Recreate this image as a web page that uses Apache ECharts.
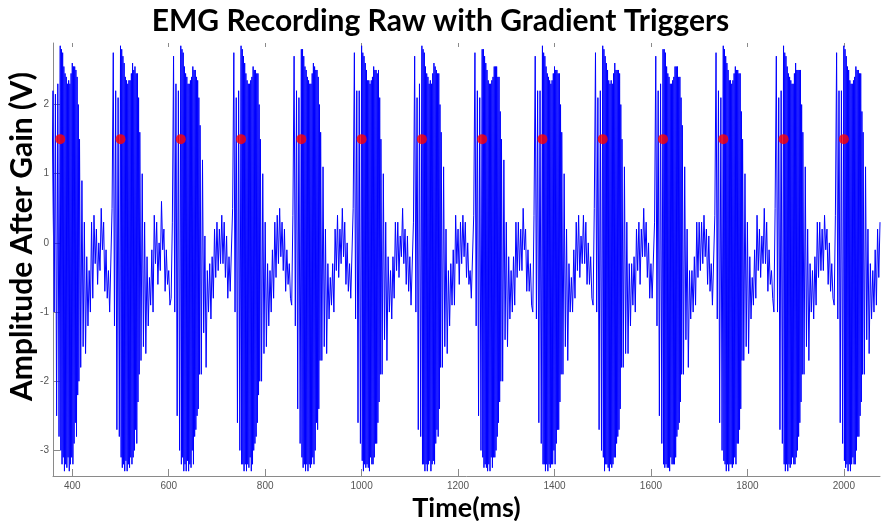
<!DOCTYPE html>
<html>
<head>
<meta charset="utf-8">
<script src="https://cdn.jsdelivr.net/npm/echarts@6/dist/echarts.min.js"></script>
<style>
html,body{margin:0;padding:0;background:#fff;}
#chart{width:881px;height:521px;}
</style>
</head>
<body>
<div id="chart"></div>
<script>
// Gradient trigger markers (ms) and their plotted level (V)
const triggerTimes  = [375, 500, 625, 750, 875, 1000, 1125, 1250, 1375, 1500, 1625, 1750, 1875, 2000];
const triggerLevels = [1.5, 1.5, 1.5, 1.5, 1.5, 1.5, 1.5, 1.5, 1.5, 1.5, 1.5, 1.5, 1.5, 1.5];

// Raw EMG samples around each trigger (V).
// pre:   from trigger-20 ms, every 2.5 ms
// burst: from trigger, every 1.25 ms
// post:  from trigger+40 ms, every 2.5 ms
const emg375 = {
  pre:   [-0.9, 0.4, 2.2, -1.0, 2.15, -2.5, 2.3, -2.8],
  burst: [2.85, -3.0, 2.8, -3.2, 2.75, -3.1, 2.55, -3.3, 2.45, -3.2, 2.4, -3.25, 2.3, -3.1, 2.35, -3.3,
          2.3, -3.2, 2.45, -3.1, 2.6, -3.2, 2.55, -2.9, 2.55, -2.6, 2.5, -2.8, 2.4, -2.2, 2.0, -2.0],
  post:  [1.5, -1.8, 0.9, -1.5, 0.3, -1.6, -0.2, -1.2, -0.4, -1.0, 0.3, -0.8, 0.4, -0.3, 0.2, -0.6,
          0.0, -0.4, 0.5, -0.1, 0.3, -0.7, -0.1, -0.8, -0.4, -1.0]
};
const emg500 = {
  pre:   [-1.0, 0.5, 2.75, -1.2, 2.2, -2.7, 2.1, -2.8],
  burst: [2.85, -3.1, 2.8, -3.25, 2.7, -3.2, 2.6, -3.3, 2.4, -3.15, 2.35, -3.3, 2.3, -3.2, 2.35, -3.25,
          2.35, -3.1, 2.45, -3.2, 2.6, -3.1, 2.5, -3.0, 2.55, -2.7, 2.45, -2.9, 2.45, -2.3, 2.1, -1.9],
  post:  [1.6, -1.7, 1.0, -1.5, 0.3, -1.6, -0.2, -1.2, -0.5, -0.9, -0.1, -1.0, 0.4, -0.3, 0.3, -0.6,
          0.0, -0.4, 0.6, -0.1, 0.2, -0.7, -0.1, -0.6, -0.4, -0.9]
};
const emg625 = {
  pre:   [-0.8, 0.3, 2.7, -1.0, 2.3, -2.5, 2.2, -3.0],
  burst: [2.85, -3.2, 2.8, -3.1, 2.75, -3.3, 2.55, -3.2, 2.45, -3.3, 2.4, -3.15, 2.3, -3.3, 2.3, -3.2,
          2.35, -3.25, 2.4, -3.0, 2.55, -3.2, 2.5, -2.8, 2.5, -2.7, 2.4, -2.5, 2.35, -2.4, 2.1, -1.9],
  post:  [1.7, -1.9, 1.2, -1.3, 0.1, -1.8, -0.4, -1.0, -0.3, -1.1, -0.2, -0.8, 0.2, -0.5, 0.3, -0.4,
          0.2, -0.3, 0.4, -0.3, 0.3, -0.5, 0.1, -0.8, -0.2, -0.7]
};
const emg750 = {
  pre:   [-0.7, 0.5, 2.75, -1.0, 2.1, -2.6, 2.2, -3.0],
  burst: [2.85, -3.2, 2.8, -3.2, 2.7, -3.3, 2.6, -3.2, 2.45, -3.3, 2.35, -3.2, 2.3, -3.25, 2.3, -3.1,
          2.35, -3.3, 2.4, -3.2, 2.55, -3.0, 2.5, -2.9, 2.5, -2.8, 2.45, -2.6, 2.45, -2.2, 2.0, -2.0],
  post:  [1.5, -2.0, 1.0, -1.6, 0.3, -1.5, -0.3, -1.2, -0.4, -1.0, -0.1, -0.8, 0.3, -0.5, 0.4, -0.3,
          0.5, -0.2, 0.3, -0.4, 0.2, -0.7, -0.1, -0.6, -0.3, -0.8]
};
const emg875 = {
  pre:   [-0.9, 0.4, 2.7, -1.2, 2.2, -2.4, 2.1, -2.9],
  burst: [2.8, -3.1, 2.8, -3.25, 2.7, -3.2, 2.55, -3.3, 2.5, -3.2, 2.4, -3.3, 2.35, -3.2, 2.3, -3.25,
          2.3, -3.2, 2.45, -3.1, 2.6, -3.2, 2.55, -3.0, 2.5, -2.6, 2.5, -2.7, 2.4, -2.4, 2.0, -1.7],
  post:  [1.6, -1.7, 1.1, -1.5, 0.2, -1.6, -0.3, -1.1, -0.5, -0.9, -0.3, -1.0, 0.2, -0.4, 0.4, -0.5,
          0.2, -0.3, 0.5, -0.2, 0.3, -0.6, 0.0, -0.7, -0.3, -0.8]
};
const emg1000 = {
  pre:   [-0.8, 0.5, 2.75, -1.1, 2.2, -2.6, 2.2, -2.9],
  burst: [2.85, -3.15, 2.75, -3.3, 2.7, -3.2, 2.6, -3.25, 2.5, -3.2, 2.35, -3.25, 2.35, -3.3, 2.3, -3.1,
          2.35, -3.2, 2.4, -3.2, 2.55, -3.1, 2.5, -2.9, 2.5, -2.9, 2.45, -2.6, 2.5, -2.3, 2.1, -1.9],
  post:  [1.5, -1.9, 1.0, -1.4, 0.3, -1.7, -0.2, -1.0, -0.4, -1.1, -0.2, -0.8, 0.3, -0.4, 0.3, -0.5,
          0.1, -0.2, 0.5, -0.3, 0.2, -0.6, 0.1, -0.7, -0.2, -0.9]
};
const emg1125 = {
  pre:   [-0.9, 0.3, 2.7, -1.0, 2.1, -2.7, 2.3, -2.8],
  burst: [2.85, -3.2, 2.8, -3.2, 2.75, -3.3, 2.55, -3.2, 2.45, -3.3, 2.4, -3.2, 2.3, -3.15, 2.35, -3.3,
          2.3, -3.2, 2.45, -3.15, 2.6, -3.2, 2.55, -2.9, 2.5, -2.7, 2.45, -2.8, 2.45, -2.4, 2.0, -1.8],
  post:  [1.6, -1.8, 1.1, -1.5, 0.2, -1.6, -0.4, -1.2, -0.3, -0.9, -0.1, -0.9, 0.4, -0.3, 0.2, -0.6,
          0.3, -0.3, 0.4, -0.2, 0.3, -0.5, 0.0, -0.6, -0.4, -0.8]
};
const emg1250 = {
  pre:   [-0.8, 0.4, 2.75, -1.2, 2.2, -2.5, 2.1, -3.0],
  burst: [2.8, -3.1, 2.8, -3.25, 2.7, -3.2, 2.6, -3.25, 2.5, -3.3, 2.35, -3.2, 2.3, -3.3, 2.3, -3.1,
          2.35, -3.25, 2.4, -3.1, 2.55, -3.1, 2.55, -3.0, 2.55, -2.8, 2.4, -2.6, 2.4, -2.3, 1.9, -2.0],
  post:  [1.5, -2.0, 1.2, -1.4, 0.3, -1.5, -0.2, -1.1, -0.4, -1.0, -0.2, -0.9, 0.3, -0.5, 0.3, -0.4,
          0.2, -0.4, 0.5, -0.1, 0.2, -0.7, -0.1, -0.7, -0.3, -0.9]
};
const emg1375 = {
  pre:   [-1.0, 0.4, 2.7, -1.1, 2.2, -2.6, 2.2, -2.9],
  burst: [2.85, -3.2, 2.75, -3.2, 2.7, -3.3, 2.55, -3.2, 2.45, -3.3, 2.4, -3.2, 2.35, -3.25, 2.3, -3.2,
          2.35, -3.2, 2.45, -3.0, 2.55, -3.2, 2.5, -2.9, 2.5, -2.7, 2.45, -2.7, 2.45, -2.3, 2.0, -1.9],
  post:  [1.6, -1.9, 1.0, -1.5, 0.2, -1.7, -0.3, -1.0, -0.5, -1.0, -0.1, -0.8, 0.3, -0.4, 0.4, -0.5,
          0.1, -0.3, 0.4, -0.3, 0.3, -0.6, 0.0, -0.6, -0.2, -0.8]
};
const emg1500 = {
  pre:   [-0.9, 0.5, 2.75, -1.0, 2.1, -2.7, 2.2, -3.0],
  burst: [2.85, -3.1, 2.8, -3.3, 2.7, -3.2, 2.6, -3.2, 2.5, -3.25, 2.35, -3.3, 2.3, -3.2, 2.35, -3.25,
          2.3, -3.2, 2.45, -3.1, 2.6, -3.1, 2.5, -2.9, 2.5, -2.8, 2.5, -2.7, 2.45, -2.4, 2.0, -1.8],
  post:  [1.5, -1.8, 1.1, -1.6, 0.3, -1.6, -0.3, -1.2, -0.3, -0.9, -0.2, -1.0, 0.2, -0.4, 0.3, -0.6,
          0.2, -0.2, 0.5, -0.2, 0.3, -0.5, 0.0, -0.8, -0.3, -0.8]
};
const emg1625 = {
  pre:   [-0.8, 0.3, 2.7, -1.2, 2.2, -2.5, 2.3, -2.9],
  burst: [2.8, -3.2, 2.8, -3.25, 2.75, -3.2, 2.55, -3.25, 2.45, -3.25, 2.4, -3.3, 2.3, -3.1, 2.3, -3.2,
          2.35, -3.2, 2.4, -3.2, 2.55, -3.1, 2.55, -2.8, 2.55, -2.7, 2.4, -2.6, 2.4, -2.3, 2.1, -1.9],
  post:  [1.7, -1.9, 1.1, -1.4, 0.2, -1.8, -0.4, -1.1, -0.4, -1.0, -0.2, -0.9, 0.3, -0.5, 0.3, -0.4,
          0.3, -0.3, 0.4, -0.2, 0.2, -0.6, 0.1, -0.7, -0.3, -0.9]
};
const emg1750 = {
  pre:   [-0.9, 0.4, 2.75, -1.1, 2.2, -2.6, 2.1, -3.0],
  burst: [2.85, -3.15, 2.8, -3.2, 2.7, -3.3, 2.6, -3.2, 2.5, -3.3, 2.35, -3.2, 2.35, -3.2, 2.3, -3.25,
          2.35, -3.2, 2.45, -3.1, 2.55, -3.2, 2.5, -2.9, 2.5, -2.9, 2.45, -2.7, 2.45, -2.4, 1.9, -1.7],
  post:  [1.5, -1.7, 1.0, -1.5, 0.3, -1.6, -0.2, -1.1, -0.5, -0.9, -0.1, -0.8, 0.4, -0.4, 0.2, -0.5,
          0.1, -0.3, 0.5, -0.3, 0.3, -0.7, -0.1, -0.6, -0.4, -0.8]
};
const emg1875 = {
  pre:   [-1.0, 0.5, 2.7, -1.0, 2.1, -2.7, 2.2, -2.9],
  burst: [2.85, -3.2, 2.75, -3.3, 2.7, -3.2, 2.55, -3.3, 2.45, -3.2, 2.4, -3.25, 2.35, -3.2, 2.3, -3.1,
          2.3, -3.2, 2.45, -3.2, 2.6, -3.1, 2.5, -3.0, 2.5, -2.8, 2.5, -2.6, 2.5, -2.3, 2.0, -1.9],
  post:  [1.6, -1.9, 1.1, -1.5, 0.2, -1.7, -0.3, -1.0, -0.4, -1.1, -0.2, -0.9, 0.3, -0.5, 0.3, -0.4,
          0.2, -0.4, 0.4, -0.1, 0.2, -0.6, 0.0, -0.7, -0.3, -0.8]
};
const emg2000 = {
  pre:   [-0.9, 0.4, 2.75, -1.1, 2.2, -2.6, 2.2, -2.9],
  burst: [2.85, -3.15, 2.8, -3.25, 2.7, -3.2, 2.55, -3.3, 2.5, -3.2, 2.35, -3.3, 2.3, -3.2, 2.3, -3.1,
          2.35, -3.2, 2.4, -3.2, 2.55, -3.0, 2.5, -2.8, 2.5, -2.8, 2.45, -2.5, 2.45, -2.3, 1.9, -1.9],
  post:  [1.6, -1.9, 1.1, -1.4, 0.2, -1.6, -0.3, -1.1, -0.4, -1.0, -0.1, -0.9, 0.2, -0.5, 0.3]
};

const periods = [emg375, emg500, emg625, emg750, emg875, emg1000, emg1125,
                 emg1250, emg1375, emg1500, emg1625, emg1750, emg1875, emg2000];

// Sampling grid (ms)
const preStart = -20, preStep = 2.5;
const burstStep = 1.25;
const postStart = 40, postStep = 2.5;

// Axis ticks
const xTicks = [400, 600, 800, 1000, 1200, 1400, 1600, 1800, 2000];
const yTicks = [-3, -2, -1, 0, 1, 2];

const emgData = [];
periods.forEach(function (p, k) {
  const t0 = triggerTimes[k];
  p.pre.forEach(function (v, i) { emgData.push([t0 + preStart + i * preStep, v]); });
  p.burst.forEach(function (v, i) { emgData.push([t0 + i * burstStep, v]); });
  p.post.forEach(function (v, i) { emgData.push([t0 + postStart + i * postStep, v]); });
});
const triggerData = triggerTimes.map(function (t, i) { return [t, triggerLevels[i]]; });

const chart = echarts.init(document.getElementById('chart'), null, {renderer: 'canvas'});
const axisGray = '#8a8a8a';
const labelGray = '#555555';
const plain = function (v) { return String(v); };
chart.setOption({
  animation: false,
  backgroundColor: '#ffffff',
  title: {
    text: 'EMG Recording Raw with Gradient Triggers',
    left: 'center',
    top: 1,
    textStyle: {fontFamily: 'Lato', fontWeight: 'bold', fontSize: 30, color: '#000'}
  },
  grid: {left: 53, right: 1, top: 43, bottom: 45, containLabel: false, outerBoundsMode: 'none'},
  xAxis: [{
    type: 'value',
    min: 360, max: 2075,
    name: 'Time(ms)',
    nameLocation: 'middle',
    nameGap: 19,
    nameMoveOverlap: false,
    nameTextStyle: {fontFamily: 'Lato', fontWeight: 'bold', fontSize: 27, color: '#000'},
    axisLine: {show: true, onZero: false, lineStyle: {color: axisGray, width: 1}},
    axisTick: {show: true, inside: true, length: 7, customValues: xTicks, lineStyle: {color: axisGray}},
    axisLabel: {customValues: xTicks, formatter: plain, fontSize: 10, color: labelGray, fontFamily: 'Liberation Sans', margin: 5},
    splitLine: {show: false}
  }, {
    type: 'value',
    position: 'top',
    min: 360, max: 2075,
    axisLine: {show: false, onZero: false},
    axisTick: {show: true, inside: true, length: 4, customValues: xTicks, lineStyle: {color: axisGray}},
    axisLabel: {show: false},
    splitLine: {show: false}
  }],
  yAxis: {
    type: 'value',
    min: -3.37, max: 2.89,
    name: 'Amplitude After Gain (V)',
    nameLocation: 'middle',
    nameGap: 16,
    nameMoveOverlap: false,
    nameTextStyle: {fontFamily: 'Lato', fontWeight: 'bold', fontSize: 30, color: '#000', padding: [0, 0, 0, 46]},
    axisLine: {show: true, onZero: false, lineStyle: {color: axisGray, width: 1}},
    axisTick: {show: true, inside: true, length: 7, customValues: yTicks, lineStyle: {color: axisGray}},
    axisLabel: {customValues: yTicks, formatter: plain, fontSize: 10, color: labelGray, fontFamily: 'Liberation Sans', margin: 4},
    splitLine: {show: false}
  },
  series: [{
    type: 'line',
    data: emgData,
    showSymbol: false,
    symbol: 'none',
    sampling: null,
    clip: true,
    lineStyle: {color: '#0000ff', width: 1},
    z: 2
  }, {
    type: 'scatter',
    data: triggerData,
    symbol: 'circle',
    symbolSize: 10,
    itemStyle: {color: '#ff0000'},
    z: 3
  }]
});
</script>
</body>
</html>
